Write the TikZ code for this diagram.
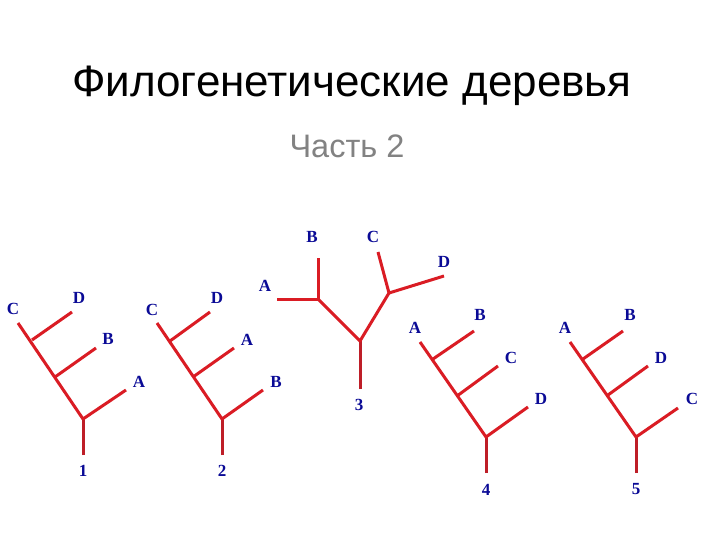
\documentclass[tikz,border=0pt]{standalone}
\usepackage{fontspec}
\setmainfont{Liberation Sans}
\newfontfamily\labfont{Liberation Serif}
\definecolor{treered}{RGB}{218,28,36}
\definecolor{stemred}{RGB}{190,30,40}
\definecolor{labblue}{RGB}{10,10,150}
\definecolor{subgray}{RGB}{130,130,130}
\begin{document}
\begin{tikzpicture}[x=1pt,y=-1pt,
  br/.style={draw=treered,line width=3pt,line cap=butt,line join=round},
  stm/.style={draw=stemred,line width=3pt},
  lab/.style={text=labblue,font=\labfont\bfseries\fontsize{17}{17}\selectfont,inner sep=0pt,anchor=center}]
\useasboundingbox[fill=white] (0,0) rectangle (720,540);
\node[font=\fontsize{44}{44}\selectfont,anchor=center] (title) at (352,86) {Филогенетические деревья};
\node[font=\fontsize{32.5}{32.5}\selectfont,text=subgray,anchor=center] (sub) at (347,146) {Часть 2};
% Tree 1
\coordinate (r1) at (83,455); \coordinate (j1) at (83,419);
\coordinate (t1) at (18,323); \coordinate (a1) at (126,390);
\coordinate (n1b) at (55,377); \coordinate (b1) at (96,348);
\coordinate (n1d) at (32,340); \coordinate (d1) at (72,312);
\draw[stm] (r1) -- (j1);
\draw[br] (t1) -- (j1) -- (a1);
\draw[br] (n1b) -- (b1);
\draw[br] (n1d) -- (d1);
\node[lab] (l1c) at (13,309) {C};
\node[lab] (l1d) at (79,298) {D};
\node[lab] (l1b) at (108,339) {B};
\node[lab] (l1a) at (139,382) {A};
\node[lab] (l1n) at (83,471) {1};
% Tree 2
\coordinate (r2) at (222,455); \coordinate (j2) at (222,419);
\coordinate (t2) at (157,323); \coordinate (b2) at (263,390);
\coordinate (n2a) at (193,377); \coordinate (a2) at (234,348);
\coordinate (n2d) at (170,341); \coordinate (d2) at (210,312);
\draw[stm] (r2) -- (j2);
\draw[br] (t2) -- (j2) -- (b2);
\draw[br] (n2a) -- (a2);
\draw[br] (n2d) -- (d2);
\node[lab] (l2c) at (152,310) {C};
\node[lab] (l2d) at (217,298) {D};
\node[lab] (l2a) at (247,340) {A};
\node[lab] (l2b) at (276,382) {B};
\node[lab] (l2n) at (222,471) {2};
% Tree 3
\coordinate (r3) at (360,389); \coordinate (j3) at (360,341);
\coordinate (p3) at (318,299); \coordinate (b3) at (318,258);
\coordinate (a3) at (277,299);
\coordinate (q3) at (389,293); \coordinate (c3) at (378,252);
\coordinate (d3) at (444,276);
\draw[stm] (r3) -- (j3);
\draw[br] (p3) -- (j3) -- (q3);
\draw[br] (b3) -- (p3) -- (a3);
\draw[br] (c3) -- (q3) -- (d3);
\node[lab] (l3b) at (312,237) {B};
\node[lab] (l3c) at (373,237) {C};
\node[lab] (l3d) at (444,262) {D};
\node[lab] (l3a) at (265,286) {A};
\node[lab] (l3n) at (359,405) {3};
% Tree 4
\coordinate (r4) at (486,473); \coordinate (j4) at (486,437);
\coordinate (t4) at (420,342); \coordinate (d4) at (528,407);
\coordinate (n4c) at (457,396); \coordinate (c4) at (498,366);
\coordinate (n4b) at (433,359); \coordinate (b4) at (474,331);
\draw[stm] (r4) -- (j4);
\draw[br] (t4) -- (j4) -- (d4);
\draw[br] (n4c) -- (c4);
\draw[br] (n4b) -- (b4);
\node[lab] (l4a) at (415,328) {A};
\node[lab] (l4b) at (480,315) {B};
\node[lab] (l4c) at (511,358) {C};
\node[lab] (l4d) at (541,399) {D};
\node[lab] (l4n) at (486,490) {4};
% Tree 5
\coordinate (r5) at (636,473); \coordinate (j5) at (636,437);
\coordinate (t5) at (570,342); \coordinate (c5) at (678,408);
\coordinate (n5d) at (608,395); \coordinate (d5) at (648,366);
\coordinate (n5b) at (583,359); \coordinate (b5) at (623,331);
\draw[stm] (r5) -- (j5);
\draw[br] (t5) -- (j5) -- (c5);
\draw[br] (n5d) -- (d5);
\draw[br] (n5b) -- (b5);
\node[lab] (l5a) at (565,328) {A};
\node[lab] (l5b) at (630,315) {B};
\node[lab] (l5d) at (661,358) {D};
\node[lab] (l5c) at (692,399) {C};
\node[lab] (l5n) at (636,489) {5};
\end{tikzpicture}
\end{document}
